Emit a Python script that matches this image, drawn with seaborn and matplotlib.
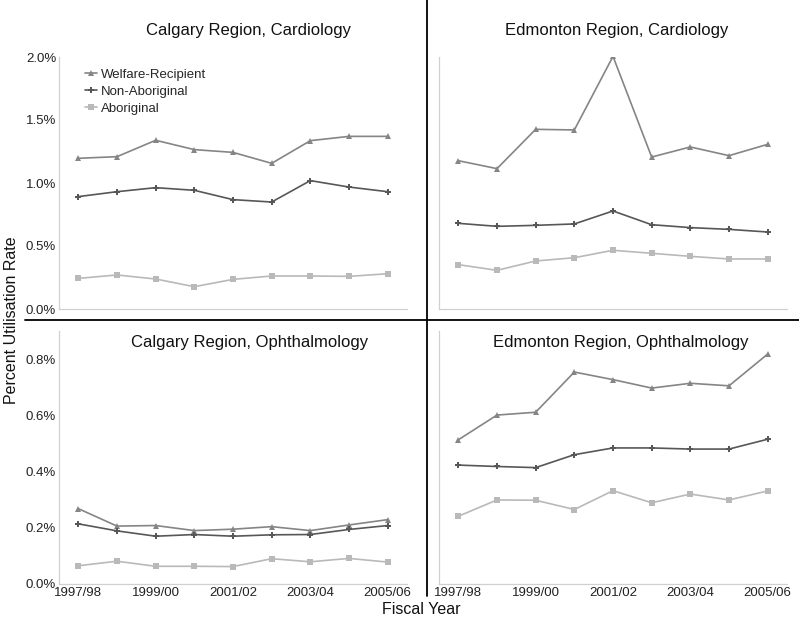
import numpy as np
import pandas as pd
import matplotlib
matplotlib.use("Agg")
import matplotlib.pyplot as plt
import seaborn as sns
from matplotlib.lines import Line2D
from matplotlib.ticker import FuncFormatter

sns.set_theme(style="white")
plt.rcParams['font.family'] = ['Liberation Sans', 'DejaVu Sans']

years = ["1997/98", "1998/99", "1999/00", "2000/01", "2001/02",
         "2002/03", "2003/04", "2004/05", "2005/06"]
groups = ["Welfare-Recipient", "Non-Aboriginal", "Aboriginal"]

# Calgary Region, Cardiology (%)
cal_card_welfare = [1.196, 1.209, 1.339, 1.265, 1.243, 1.156, 1.336, 1.370, 1.370]
cal_card_nonab = [0.892, 0.931, 0.963, 0.942, 0.868, 0.849, 1.019, 0.968, 0.931]
cal_card_ab = [0.243, 0.270, 0.238, 0.177, 0.235, 0.262, 0.262, 0.259, 0.280]

# Edmonton Region, Cardiology (%)
edm_card_welfare = [1.177, 1.114, 1.426, 1.421, 2.005, 1.206, 1.286, 1.217, 1.307]
edm_card_nonab = [0.680, 0.656, 0.664, 0.675, 0.778, 0.669, 0.646, 0.632, 0.611]
edm_card_ab = [0.352, 0.307, 0.381, 0.407, 0.466, 0.442, 0.418, 0.397, 0.397]

# Calgary Region, Ophthalmology (%)
cal_oph_welfare = [0.268, 0.206, 0.208, 0.190, 0.195, 0.204, 0.190, 0.210, 0.229]
cal_oph_nonab = [0.214, 0.189, 0.170, 0.176, 0.170, 0.175, 0.176, 0.194, 0.208]
cal_oph_ab = [0.065, 0.081, 0.063, 0.063, 0.062, 0.090, 0.079, 0.091, 0.078]

# Edmonton Region, Ophthalmology (%)
edm_oph_welfare = [0.513, 0.601, 0.611, 0.754, 0.727, 0.697, 0.714, 0.705, 0.818]
edm_oph_nonab = [0.423, 0.418, 0.414, 0.460, 0.484, 0.484, 0.480, 0.480, 0.515]
edm_oph_ab = [0.241, 0.299, 0.298, 0.265, 0.332, 0.289, 0.320, 0.299, 0.331]

titles = ["Calgary Region, Cardiology", "Edmonton Region, Cardiology",
          "Calgary Region, Ophthalmology", "Edmonton Region, Ophthalmology"]
panel_data = [
    (cal_card_welfare, cal_card_nonab, cal_card_ab),
    (edm_card_welfare, edm_card_nonab, edm_card_ab),
    (cal_oph_welfare, cal_oph_nonab, cal_oph_ab),
    (edm_oph_welfare, edm_oph_nonab, edm_oph_ab),
]

colors = {"Welfare-Recipient": "#858585", "Non-Aboriginal": "#575757", "Aboriginal": "#b9b9b9"}
markers = {"Welfare-Recipient": "^", "Non-Aboriginal": "P", "Aboriginal": "s"}

W, H = 799, 621
fig = plt.figure(figsize=(W / 100, H / 100), dpi=100)

def box(l, r, t, b):
    return [l / W, 1 - b / H, (r - l) / W, (b - t) / H]

boxes = [box(59, 407, 57, 309), box(439, 787, 57, 309),
         box(59, 407, 331, 584), box(439, 787, 331, 584)]
ylims = [2.0, 2.0, 0.9, 0.9]
yticks = [[0, 0.5, 1.0, 1.5, 2.0], [0, 0.5, 1.0, 1.5, 2.0],
          [0, 0.2, 0.4, 0.6, 0.8], [0, 0.2, 0.4, 0.6, 0.8]]

axes = []
for i, (bx, vals) in enumerate(zip(boxes, panel_data)):
    ax = fig.add_axes(bx)
    rows = []
    for g, v in zip(groups, vals):
        for j, val in enumerate(v):
            rows.append({"x": j, "year": years[j], "group": g, "rate": val})
    df = pd.DataFrame(rows)
    sns.lineplot(data=df, x="x", y="rate", hue="group", style="group",
                 hue_order=groups, style_order=groups,
                 palette=colors, markers=markers, dashes=False,
                 markersize=4.3, markeredgewidth=0, linewidth=1.2,
                 legend=False, ax=ax)
    ax.set_xlim(-0.5, 8.5)
    ax.set_ylim(0, ylims[i])
    ax.set_yticks(yticks[i])
    ax.set_xticks(range(0, 9, 2))
    ax.set_xlabel("")
    ax.set_ylabel("")
    for s in ["top", "right"]:
        ax.spines[s].set_visible(False)
    for s in ["left", "bottom"]:
        ax.spines[s].set_color("#d0d0d0")
        ax.spines[s].set_linewidth(0.9)
    ax.tick_params(axis="both", length=0, labelsize=9.5, colors="#222222", pad=2)
    if i in (0, 2):
        ax.yaxis.set_major_formatter(FuncFormatter(lambda v, p: f"{v:.1f}%"))
    else:
        ax.set_yticklabels([])
    if i in (2, 3):
        ax.set_xticklabels([years[k] for k in range(0, 9, 2)])
    else:
        ax.set_xticklabels([])
    axes.append(ax)

# Titles
fig.text(248 / W, 1 - 30 / H, titles[0], ha="center", va="center", fontsize=12, color="#111111")
fig.text(617 / W, 1 - 30 / H, titles[1], ha="center", va="center", fontsize=12, color="#111111")
fig.text(250 / W, 1 - 342 / H, titles[2], ha="center", va="center", fontsize=12, color="#111111")
fig.text(621 / W, 1 - 342 / H, titles[3], ha="center", va="center", fontsize=12, color="#111111")

# Axis labels
fig.text(12 / W, 1 - 320 / H, "Percent Utilisation Rate", rotation=90,
         ha="center", va="center", fontsize=11.5, color="#111111")
fig.text(421 / W, 1 - 609 / H, "Fiscal Year", ha="center", va="center",
         fontsize=11.5, color="#111111")

# Legend
handles = [Line2D([0], [0], color=colors[g], marker=markers[g], markersize=4,
                  markeredgewidth=0, linewidth=1.2) for g in groups]
axes[0].legend(handles, groups, loc="upper left", bbox_to_anchor=(0.06, 0.975),
               frameon=False, fontsize=9.5, handlelength=0.9, handletextpad=0.3,
               labelspacing=0.37, borderaxespad=0)

# Divider lines
fig.add_artist(Line2D([427 / W, 427 / W], [1 - 0 / H, 1 - 596 / H],
                      transform=fig.transFigure, color="black", linewidth=1.3))
fig.add_artist(Line2D([25 / W, 1.0], [1 - 320 / H, 1 - 320 / H],
                      transform=fig.transFigure, color="black", linewidth=1.3))

fig.savefig("out.png", dpi=100, facecolor="white")
